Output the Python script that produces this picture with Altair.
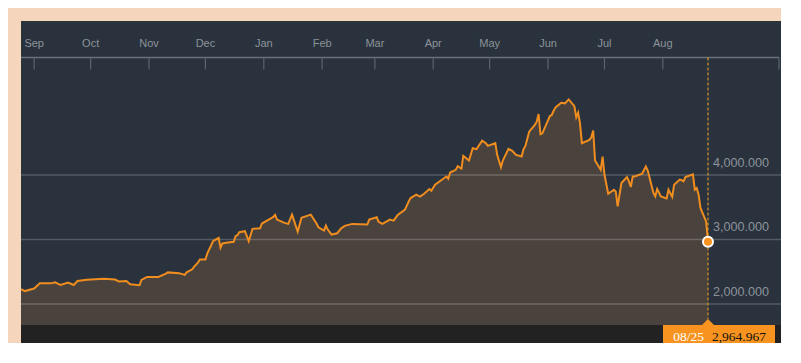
import altair as alt
import pandas as pd

# ---- data (Shanghai Composite style index) ----
dates = [
    "2014-08-25", "2014-08-27", "2014-09-01", "2014-09-04", "2014-09-10", "2014-09-12",
    "2014-09-15", "2014-09-19", "2014-09-22", "2014-09-24", "2014-09-29", "2014-10-08",
    "2014-10-14", "2014-10-16", "2014-10-20", "2014-10-22", "2014-10-27", "2014-10-28",
    "2014-10-31", "2014-11-06", "2014-11-10", "2014-11-11", "2014-11-17", "2014-11-20",
    "2014-11-21", "2014-11-24", "2014-11-25", "2014-11-27", "2014-11-28", "2014-12-01",
    "2014-12-02", "2014-12-03", "2014-12-04", "2014-12-05", "2014-12-08", "2014-12-09",
    "2014-12-10", "2014-12-12", "2014-12-16", "2014-12-17", "2014-12-18", "2014-12-19",
    "2014-12-22", "2014-12-24", "2014-12-26", "2014-12-30", "2014-12-31", "2015-01-05",
    "2015-01-06", "2015-01-07", "2015-01-08", "2015-01-12", "2015-01-14", "2015-01-16",
    "2015-01-19", "2015-01-21", "2015-01-26", "2015-01-29", "2015-01-30", "2015-02-02",
    "2015-02-03", "2015-02-04", "2015-02-06", "2015-02-09", "2015-02-11", "2015-02-13",
    "2015-02-17", "2015-02-25", "2015-02-26", "2015-03-02", "2015-03-03", "2015-03-05",
    "2015-03-09", "2015-03-11", "2015-03-13", "2015-03-17", "2015-03-19", "2015-03-20",
    "2015-03-23", "2015-03-25", "2015-03-27", "2015-03-30", "2015-03-31", "2015-04-02",
    "2015-04-08", "2015-04-09", "2015-04-10", "2015-04-13", "2015-04-14", "2015-04-16",
    "2015-04-17", "2015-04-20", "2015-04-22", "2015-04-24", "2015-04-27", "2015-04-29",
    "2015-04-30", "2015-05-04", "2015-05-05", "2015-05-07", "2015-05-08", "2015-05-11",
    "2015-05-13", "2015-05-15", "2015-05-18", "2015-05-19", "2015-05-20", "2015-05-22",
    "2015-05-25", "2015-05-26", "2015-05-27", "2015-05-28", "2015-05-29", "2015-06-02",
    "2015-06-03", "2015-06-04", "2015-06-05", "2015-06-08", "2015-06-10", "2015-06-12",
    "2015-06-15", "2015-06-16", "2015-06-17", "2015-06-18", "2015-06-19", "2015-06-23",
    "2015-06-24", "2015-06-25", "2015-06-26", "2015-06-29", "2015-06-30", "2015-07-01",
    "2015-07-03", "2015-07-06", "2015-07-07", "2015-07-08", "2015-07-10", "2015-07-13",
    "2015-07-14", "2015-07-15", "2015-07-16", "2015-07-17", "2015-07-21", "2015-07-23",
    "2015-07-24", "2015-07-27", "2015-07-28", "2015-07-29", "2015-07-31", "2015-08-03",
    "2015-08-04", "2015-08-06", "2015-08-07", "2015-08-10", "2015-08-11", "2015-08-12",
    "2015-08-13", "2015-08-17", "2015-08-18", "2015-08-19", "2015-08-20", "2015-08-21",
    "2015-08-24", "2015-08-25",
]
values = [
    2230, 2200, 2240, 2320, 2320, 2335,
    2295, 2331, 2294, 2356, 2375, 2390,
    2378, 2350, 2356, 2305, 2290, 2372,
    2420, 2420, 2470, 2490, 2478, 2452,
    2490, 2537, 2580, 2640, 2690, 2691,
    2784, 2846, 2907, 2974, 3026, 2872,
    2938, 2949, 2964, 3051, 3066, 3113,
    3128, 2974, 3165, 3174, 3247, 3330,
    3350, 3381, 3309, 3258, 3242, 3386,
    3124, 3335, 3386, 3247, 3190, 3139,
    3216, 3154, 3077, 3097, 3170, 3211,
    3242, 3232, 3309, 3344, 3273, 3242,
    3309, 3293, 3375, 3463, 3591, 3643,
    3695, 3664, 3706, 3783, 3757, 3849,
    3977, 3942, 4039, 4080, 4138, 4100,
    4297, 4224, 4416, 4400, 4533, 4493,
    4451, 4493, 4312, 4122, 4224, 4405,
    4374, 4312, 4286, 4400, 4451, 4672,
    4776, 4826, 4945, 4632, 4647, 4915,
    4930, 4996, 5049, 5120, 5111, 5172,
    5069, 4894, 4966, 4802, 4493, 4544,
    4586, 4688, 4224, 4081, 4286, 4004,
    3710, 3772, 3746, 3514, 3875, 3968,
    3901, 3814, 3977, 3977, 4019, 4132,
    4070, 3721, 3669, 3783, 3669, 3638,
    3772, 3660, 3850, 3930, 3920, 3901,
    3968, 4010, 3772, 3798, 3700, 3489,
    3280, 2964.967,
]
month_starts = ["2014-09-01", "2014-10-01", "2014-11-01", "2014-12-01", "2015-01-01",
                "2015-02-01", "2015-03-01", "2015-04-01", "2015-05-01", "2015-06-01",
                "2015-07-01", "2015-08-01"]
month_labels = ["Sep", "Oct", "Nov", "Dec", "Jan", "Feb", "Mar", "Apr", "May", "Jun",
                "Jul", "Aug"]
grid_levels = [2000, 3000, 4000]

# ---- styling ----
PAGE = "#f5d6bd"
PANEL = "#29323d"
AREA = "#4a423c"
LINE = "#f08d1f"
ORANGE = "#f7931e"
BAND = "#222222"
GRAY = "#8d939a"
W, H = 760, 322

df = pd.DataFrame({"date": dates, "value": values})
last = df.iloc[[-1]].copy()
last["label"] = [d[5:7] + "/" + d[8:10] for d in last["date"]]
months_df = pd.DataFrame({"month": month_starts, "label": month_labels})
grid_df = pd.DataFrame({"level": grid_levels})
one = pd.DataFrame({"k": [0]})

x_scale = alt.Scale(domain=[alt.DateTime(year=2014, month=8, date=25, utc=True),
                            alt.DateTime(year=2015, month=10, date=2, hours=19, utc=True)])
y_scale = alt.Scale(domain=[1395, 6388], nice=False, zero=False)

X = alt.X("date:T", scale=x_scale, axis=None)
Y = alt.Y("value:Q", scale=y_scale, axis=None)
XM = alt.X("month:T", scale=x_scale, axis=None)
YG = alt.Y("level:Q", scale=y_scale, axis=None)

area = alt.Chart(df).mark_area(color=AREA, opacity=1).encode(x=X, y=Y, y2=alt.value(304))
grid = alt.Chart(grid_df).mark_rule(color="white", opacity=0.2, strokeWidth=1.5).encode(
    y=YG, x=alt.value(0), x2=alt.value(W))
line = alt.Chart(df).mark_line(color=LINE, strokeWidth=2).encode(x=X, y=Y)
band = alt.Chart(one).mark_rect(color=BAND).encode(
    x=alt.value(0), x2=alt.value(W), y=alt.value(304), y2=alt.value(H))
ylabels = alt.Chart(grid_df).mark_text(
    align="left", baseline="alphabetic", dy=-8, fontSize=12.6, color=GRAY,
    font="Liberation Sans").encode(y=YG, x=alt.value(692),
                                   text=alt.Text("level:Q", format=",.3f"))

axis_line = alt.Chart(one).mark_rule(color="#6b7178", strokeWidth=1.5).encode(
    x=alt.value(0), x2=alt.value(758), y=alt.value(36.5))
end_tick = alt.Chart(one).mark_rule(color="#5d646c", strokeWidth=1.2).encode(
    x=alt.value(758), y=alt.value(36.5), y2=alt.value(48.5))
month_ticks = alt.Chart(months_df).mark_rule(color="#5d646c", strokeWidth=1.2).encode(
    x=XM, y=alt.value(36.5), y2=alt.value(48.5))
month_text = alt.Chart(months_df).mark_text(
    align="center", baseline="alphabetic", fontSize=11, color=GRAY,
    font="Liberation Sans").encode(x=XM, y=alt.value(25.5), text="label:N")

dashed = alt.Chart(last).mark_rule(color="#f5a623", strokeDash=[3, 2], strokeWidth=1).encode(
    x=X, y=alt.value(36.5), y2=alt.value(298))
box = alt.Chart(one).mark_rect(color=ORANGE).encode(
    x=alt.value(642), x2=alt.value(754), y=alt.value(304), y2=alt.value(H))
tri = alt.Chart(last).mark_point(shape="M-1,0L0,-1L1,0Z", size=169, filled=True,
                                 color=ORANGE, opacity=1).encode(x=X, y=alt.value(304.5))
date_text = alt.Chart(last).mark_text(
    align="right", baseline="alphabetic", dx=-4, fontSize=13.5, color="white",
    font="Liberation Serif").encode(x=X, y=alt.value(319.5), text="label:N")
value_text = alt.Chart(last).mark_text(
    align="left", baseline="alphabetic", dx=4, fontSize=13.5, color="#111111",
    font="Liberation Serif").encode(x=X, y=alt.value(319.5),
                                    text=alt.Text("value:Q", format=",.3f"))
point = alt.Chart(last).mark_point(filled=True, fill=ORANGE, stroke="white", strokeWidth=2,
                                   size=100, opacity=1).encode(x=X, y=Y)

chart = alt.layer(
    area, grid, line, band, ylabels, axis_line, end_tick, month_ticks, month_text,
    dashed, box, tri, date_text, value_text, point,
).properties(
    width=W, height=H, background=PAGE,
    padding={"left": 13, "top": 13, "right": 0, "bottom": 0},
    autosize="none",
).configure_view(fill=PANEL, stroke=None)

chart.save("out.html", embed_options={"renderer": "svg", "actions": False})
